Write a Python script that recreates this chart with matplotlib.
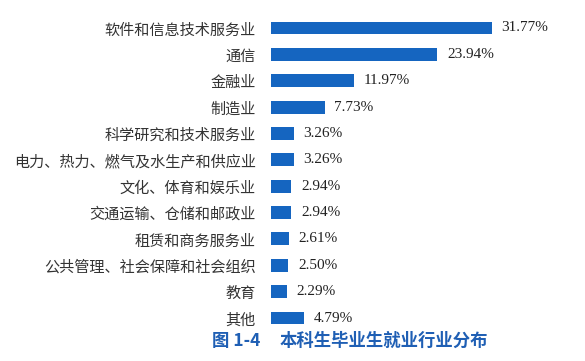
import matplotlib
matplotlib.use("Agg")
import matplotlib.pyplot as plt

categories = ["软件和信息技术服务业", "通信", "金融业", "制造业", "科学研究和技术服务业",
              "电力、热力、燃气及水生产和供应业", "文化、体育和娱乐业", "交通运输、仓储和邮政业",
              "租赁和商务服务业", "公共管理、社会保障和社会组织", "教育", "其他"]
values = [31.77, 23.94, 11.97, 7.73, 3.26, 3.26, 2.94, 2.94, 2.61, 2.50, 2.29, 4.79]
value_labels = ["31.77%", "23.94%", "11.97%", "7.73%", "3.26%", "3.26%", "2.94%", "2.94%",
                "2.61%", "2.50%", "2.29%", "4.79%"]
title_num = "图 1-4"
title_text = "本科生毕业生就业行业分布"

W, H = 585, 361
fig = plt.figure(figsize=(W / 100, H / 100), dpi=100)
fig.patch.set_facecolor("white")

left_px, right_px = 271, 571
top_px, bot_px = 14.8, 331.2
ax = fig.add_axes([left_px / W, 1 - bot_px / H, (right_px - left_px) / W, (bot_px - top_px) / H])

bar_color = "#1565c0"
ypos = list(range(len(categories)))
ax.barh(ypos, values, height=0.49, color=bar_color, edgecolor="none")
ax.set_ylim(len(categories) - 0.5, -0.5)
ax.set_xlim(0, (right_px - left_px) / 6.95)

for y, v, lab in zip(ypos, values, value_labels):
    ax.annotate(lab, (v, y), xytext=(7, 0), textcoords="offset points",
                va="center", ha="left", fontsize=11, color="#222222",
                family=["Liberation Serif"])

ax.set_yticks(ypos)
ax.set_yticklabels(categories, family=["Noto Sans CJK SC", "DejaVu Sans"], fontsize=10.9, color="#333333")
ax.tick_params(axis="y", length=0, pad=11)
ax.set_xticks([])
for s in ax.spines.values():
    s.set_visible(False)

title_color = "#1f5fb4"
fig.text(212 / W, 1 - 341 / H, title_num, ha="left", va="center", fontsize=12.5,
         fontweight="bold", color=title_color, family=["Noto Sans CJK SC", "DejaVu Sans"])
fig.text(280 / W, 1 - 341 / H, title_text, ha="left", va="center", fontsize=12.5,
         fontweight="bold", color=title_color, family=["Noto Sans CJK SC", "DejaVu Sans"])

fig.savefig("out.png", dpi=100, facecolor="white")
